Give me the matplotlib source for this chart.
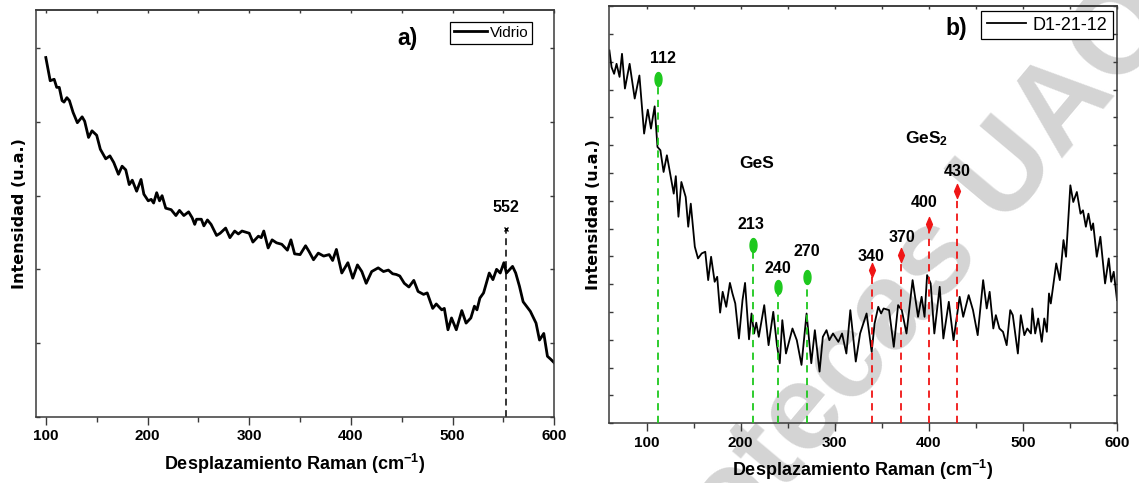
import numpy as np
import matplotlib
matplotlib.use("Agg")
import matplotlib.pyplot as plt
from matplotlib.path import Path
from matplotlib.ticker import MultipleLocator

# ---------------- data ----------------
# a) glass substrate spectrum
vidrio_x = [100, 104.3, 108.2, 110.7, 113.2, 116, 117.9, 120.7, 123.2, 126.8, 131, 135.7, 138.2, 142,
            145.4, 150, 153.6, 158.9, 163, 166.8, 171.4, 175, 178.6, 182, 185, 189.3, 193.6, 196.4,
            200.7, 203.6, 206, 209, 211.8, 214.3, 217.9, 223.2, 227.9, 231.4, 235.7, 240.4, 243.9,
            246.4, 248.2, 252.9, 255.4, 258.9, 262.5, 267.9, 271.4, 276.8, 281, 285.7, 289.3, 292.9,
            300, 303.6, 309, 311.8, 314.3, 318.6, 322.5, 326.8, 332, 337.5, 341, 344.6, 350, 355.4,
            358.9, 363.2, 367.9, 373.2, 378.6, 382, 385.7, 391, 397, 401.8, 406.4, 410.7, 415, 420.4,
            426.8, 432, 436.8, 441, 444.6, 448, 452.5, 457, 461.8, 466, 471.4, 475, 480.4, 483.9,
            489.3, 491.8, 495.4, 498.9, 503.6, 509, 513.2, 517.9, 521.4, 523.9, 526.8, 530.4, 536,
            539.6, 543.2, 546.8, 550.4, 552.9, 558.9, 562, 565.7, 569.3, 576.4, 582, 585.4, 589.6,
            593.2, 596.4, 600]
vidrio_y = [4.875, 4.56, 4.58, 4.47, 4.47, 4.29, 4.27, 4.33, 4.29, 4.13, 3.99, 4.07, 4.01, 3.79,
            3.88, 3.82, 3.63, 3.50, 3.54, 3.45, 3.29, 3.40, 3.35, 3.15, 3.21, 3.06, 3.22, 3.02,
            2.93, 2.95, 2.90, 3.04, 2.93, 3.00, 2.83, 2.81, 2.73, 2.80, 2.73, 2.78, 2.70,
            2.61, 2.68, 2.68, 2.59, 2.67, 2.61, 2.46, 2.49, 2.56, 2.43, 2.52, 2.48, 2.52,
            2.49, 2.37, 2.45, 2.43, 2.52, 2.29, 2.40, 2.36, 2.34, 2.26, 2.40, 2.21, 2.20, 2.32,
            2.24, 2.13, 2.22, 2.18, 2.20, 2.12, 2.27, 1.95, 2.09, 1.88, 2.06, 1.97, 1.81, 1.97,
            2.02, 1.97, 1.99, 1.94, 1.93, 1.91, 1.81, 1.76, 1.85, 1.70, 1.66, 1.68, 1.47, 1.53,
            1.45, 1.47, 1.18, 1.34, 1.18, 1.44, 1.27, 1.34, 1.50, 1.45, 1.61, 1.68, 1.95,
            1.86, 2.00, 1.95, 2.09, 1.95, 2.04, 1.95, 1.77, 1.56, 1.43, 1.27, 1.04, 1.13,
            0.82, 0.78, 0.73]
vidrio_peak = 552
vidrio_peak_height = 2.55

# b) D1-21-12 film spectrum
d1_x = [60.4, 62.7, 65.4, 68, 71.2, 73.8, 76.9, 81.9, 87.3, 92.3, 97.3, 101.2, 104.6, 108.5, 111.5,
        114.6, 118, 121.5, 125, 128.8, 131, 133.8, 136.9, 141.5, 144.2, 146.9, 151.2, 154.6, 158.5,
        162.3, 165.4, 168.5, 172.3, 175, 178.1, 180.8, 184.6, 188.5, 191.2, 194.2, 198.1, 201.9,
        204.6, 208.8, 211.5, 214.2, 216.5, 219.2, 225, 229.6, 234.6, 238.5, 241.5, 244.2, 248.1,
        255, 259.6, 264.6, 270, 275, 278.8, 283.8, 287.3, 291.2, 294.2, 298.1, 303.8, 307.7,
        312.3, 316.5, 322.3, 326.9, 333.8, 339.2, 342.3, 346.2, 349.2, 351.9, 357.7, 362.7, 367.3,
        371.2, 376.2, 382.7, 388.5, 392.3, 395.4, 398.1, 401.9, 405.8, 411.5, 415.4, 421.2, 426.2,
        432.7, 436.5, 442.3, 446.9, 451.9, 457.7, 461.5, 464.6, 468.5, 471.2, 475, 478.8, 482.7,
        486.5, 489.2, 494.6, 497.7, 501.5, 504.6, 508.5, 510, 513, 516.2, 520, 522.7, 525.4,
        527.7, 529.6, 535.4, 539.2, 543.1, 545.8, 550.4, 553.5, 557.3, 561.2, 563.8, 566.9,
        569.6, 572.7, 574.6, 578.5, 582.3, 587.3, 591.2, 593.8, 596.5, 600]
d1_y = [13.41, 12.81, 12.57, 12.93, 12.46, 13.29, 12.04, 12.93, 11.68, 12.51, 10.42, 11.28, 10.6, 11.4, 9.94,
        9.82, 9.04, 9.64, 8.98, 8.26, 8.89, 7.43, 8.68, 8.14, 7.07, 7.90, 6.35, 5.93, 6.11,
        6.17, 5.15, 5.99, 5.09, 5.27, 3.98, 4.73, 4.19, 5.05, 4.67, 4.31, 3.05, 4.43,
        5.05, 3.02, 3.95, 3.23, 3.62, 3.11, 4.25, 2.81, 4.01, 2.81, 2.16, 3.71, 2.51,
        3.41, 2.99, 2.10, 3.95, 2.16, 3.35, 1.86, 3.11, 3.35, 2.99, 3.23, 2.93, 3.23,
        2.51, 4.07, 2.22, 3.23, 3.95, 2.57, 3.59, 4.19, 3.95, 4.13, 4.07, 2.75, 4.25,
        4.07, 3.23, 5.15, 3.83, 4.55, 3.83, 5.33, 5.03, 3.23, 4.91, 3.05, 4.37, 2.99,
        4.55, 3.83, 4.61, 4.07, 3.17, 5.15, 4.13, 4.73, 3.41, 3.89, 3.41, 3.29, 2.81,
        4.07, 3.89, 2.51, 3.89, 3.17, 3.41, 3.23, 4.13, 3.23, 3.77, 2.93, 3.77, 3.29,
        4.67, 4.31, 5.75, 5.15, 6.59, 5.99, 8.56, 7.96, 8.32, 7.54, 7.66, 7.07,
        7.54, 6.95, 7.19, 5.99, 6.71, 5.03, 5.93, 5.09, 5.45, 4.43]

ges_peaks = [112, 213, 240, 270]
ges_heights = [12.4, 6.43, 4.91, 5.25]
ges2_peaks = [340, 370, 400, 430]
ges2_heights = [5.53, 6.05, 7.16, 8.35]

# label offsets (points) for the peak annotations
ges_offsets = [(4, 14.5), (-1.3, 14.5), (0, 13.2), (0, 18.5)]
ges2_offsets = [(-1, 9.2), (0.7, 12.8), (-3.4, 15.6), (0, 13.9)]

# ---------------- style ----------------
SANS = ['Liberation Sans', 'DejaVu Sans']
plt.rcParams['mathtext.fontset'] = 'custom'
plt.rcParams['mathtext.rm'] = 'Liberation Sans:bold'
plt.rcParams['mathtext.it'] = 'Liberation Sans:bold'
plt.rcParams['mathtext.bf'] = 'Liberation Sans:bold'

GREEN = '#1ec81e'
RED = '#f01515'
SPINE = '#3a3a3a'

# elongated markers
t = np.linspace(0, 2 * np.pi, 40)
ellipse = Path(np.column_stack([0.5 * np.cos(t), np.sin(t)]), closed=True)
thin_diamond = Path([(0, 1), (0.42, 0), (0, -1), (-0.42, 0), (0, 1)], closed=True)

fig = plt.figure(figsize=(11.39, 4.83), dpi=100)
axa = fig.add_axes([0.0313, 0.1373, 0.4554, 0.8420])
axb = fig.add_axes([0.5347, 0.1236, 0.4460, 0.8646])


def style_axes(ax, xlim, ylim, ny):
    ax.set_facecolor('none')
    ax.set_xlim(*xlim)
    ax.set_ylim(*ylim)
    ax.xaxis.set_major_locator(MultipleLocator(100))
    ax.xaxis.set_minor_locator(MultipleLocator(50))
    ax.set_yticks(np.arange(0, ny + 1))
    ax.tick_params(axis='x', which='major', direction='out', length=6, width=1,
                   color=SPINE, pad=3)
    ax.tick_params(axis='x', which='minor', direction='out', length=3.5, width=1, color=SPINE)
    ax.tick_params(axis='y', which='both', direction='in', length=3, width=1, color=SPINE,
                   left=True, right=True, labelleft=False)
    for lab in ax.get_xticklabels():
        lab.set_fontfamily(SANS)
        lab.set_fontweight('bold')
        lab.set_fontsize(11)
    for s in ax.spines.values():
        s.set_color(SPINE)
        s.set_linewidth(1.1)
    top = ax.secondary_xaxis('top')
    top.xaxis.set_major_locator(MultipleLocator(100))
    top.xaxis.set_minor_locator(MultipleLocator(50))
    top.tick_params(axis='x', which='both', direction='in', length=2.5, width=1,
                    color=SPINE, labeltop=False)
    top.spines['top'].set_color(SPINE)
    top.spines['top'].set_linewidth(1.1)
    ax.set_xlabel('Desplazamiento Raman (cm$^{-1}$)', fontfamily=SANS, fontweight='bold',
                  fontsize=13, labelpad=6)
    ax.set_ylabel('Intensidad (u.a.)', fontfamily=['DejaVu Sans'], fontweight='bold',
                  fontsize=11.5, labelpad=6)


# ---------------- panel a ----------------
style_axes(axa, (90, 600), (0, 5.52), 5)
axa.plot(vidrio_x, vidrio_y, color='black', lw=2.0, solid_joinstyle='round', label='Vidrio')
axa.plot([vidrio_peak, vidrio_peak], [0, vidrio_peak_height], color='black', lw=1.1,
         ls=(0, (4.5, 3)))
axa.plot([vidrio_peak], [vidrio_peak_height], marker='x', ms=3.5, mew=1, color='black')
axa.annotate(str(vidrio_peak), xy=(vidrio_peak, vidrio_peak_height), xytext=(0, 15),
             textcoords='offset points', ha='center', va='center', fontfamily=SANS,
             fontweight='bold', fontsize=11.5)
fig.text(408 / 1139, 1 - 38 / 483, 'a)', ha='center', va='center', fontfamily=SANS,
         fontweight='bold', fontsize=16.5)
lega = axa.legend(loc='upper right', bbox_to_anchor=(0.957, 0.9705), borderaxespad=0,
                  frameon=True, fancybox=False, edgecolor='black', framealpha=1,
                  handlelength=2.2, handletextpad=0.15, borderpad=0.25,
                  prop={'family': SANS, 'size': 11})
lega.get_frame().set_linewidth(0.9)

# ---------------- panel b ----------------
style_axes(axb, (60, 600), (0, 15.02), 15)
axb.plot(d1_x, d1_y, color='black', lw=1.3, solid_joinstyle='round', label='D1-21-12')
for pk, h, off in zip(ges_peaks, ges_heights, ges_offsets):
    axb.plot([pk, pk], [0, h], color=GREEN, lw=1.3, ls=(0, (4, 3)), zorder=3)
    axb.plot([pk], [h], marker=ellipse, ms=10, color=GREEN, mec=GREEN, zorder=4)
    axb.annotate(str(pk), xy=(pk, h), xytext=off, textcoords='offset points', ha='center',
                 va='center', fontfamily=SANS, fontweight='bold', fontsize=11.5)
for pk, h, off in zip(ges2_peaks, ges2_heights, ges2_offsets):
    axb.plot([pk, pk], [0, h], color=RED, lw=1.3, ls=(0, (4, 3)), zorder=3)
    axb.plot([pk], [h], marker=thin_diamond, ms=10, color=RED, mec=RED, zorder=4)
    axb.annotate(str(pk), xy=(pk, h), xytext=off, textcoords='offset points', ha='center',
                 va='center', fontfamily=SANS, fontweight='bold', fontsize=11.5)
axb.text(217, 9.34, 'GeS', ha='center', va='center', fontfamily=SANS, fontweight='bold',
         fontsize=12.5)
axb.text(398, 10.25, 'GeS$_2$', ha='center', va='center', fontfamily=SANS, fontweight='bold',
         fontsize=12.5)
fig.text(956 / 1139, 1 - 28 / 483, 'b)', ha='center', va='center', fontfamily=SANS,
         fontweight='bold', fontsize=16.5)
legb = axb.legend(loc='upper right', bbox_to_anchor=(0.992, 0.987), borderaxespad=0,
                  frameon=True, fancybox=False, edgecolor='black', framealpha=1,
                  handlelength=2.2, handletextpad=0.35, borderpad=0.3,
                  prop={'family': SANS, 'size': 13})
legb.get_frame().set_linewidth(0.9)

# library watermark behind the plots
fig.text(847 / 1139, 1 - 366 / 483, 'Bibliotecas UAQ', ha='center', va='center',
         rotation=50, rotation_mode='anchor', fontfamily=SANS, fontweight='bold',
         fontsize=88, color='#d4d4d4', zorder=-5)

fig.savefig('out.png', dpi=100)
